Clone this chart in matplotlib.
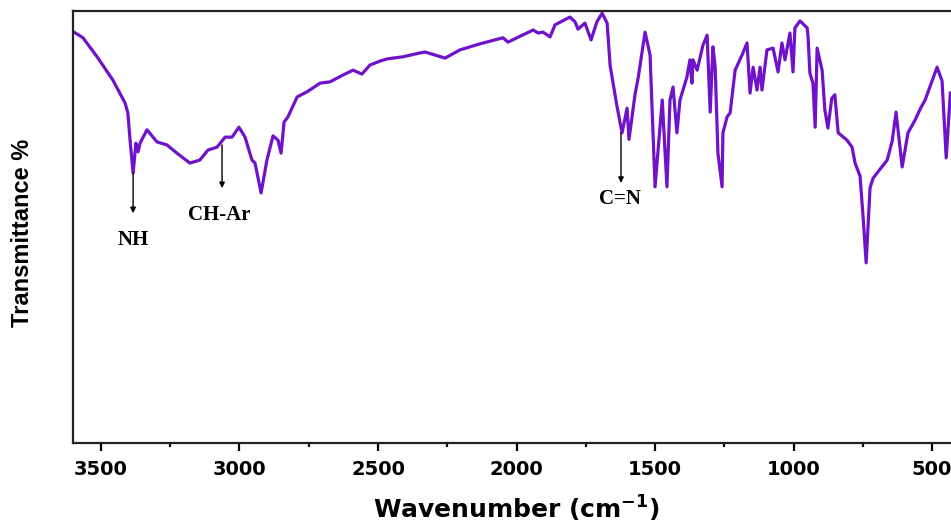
import matplotlib
matplotlib.use("Agg")
import matplotlib.pyplot as plt
from matplotlib.ticker import MultipleLocator

wavenumber = [3597, 3565, 3514, 3457, 3413, 3403, 3395, 3384, 3374, 3366, 3359, 3334, 3298,
              3262, 3226, 3179, 3143, 3114, 3081, 3052, 3027, 3002, 2980, 2955, 2944, 2922,
              2901, 2879, 2861, 2850, 2839, 2825, 2792, 2756, 2709, 2673, 2626, 2590, 2558,
              2529, 2493, 2468, 2410, 2348, 2330, 2258, 2204, 2132, 2049, 2031, 1940, 1922,
              1904, 1879, 1861, 1807, 1789, 1778, 1753, 1731, 1710, 1691, 1673, 1662, 1637,
              1619, 1601, 1594, 1572, 1561, 1536, 1518, 1500, 1489, 1474, 1457, 1446, 1435,
              1421, 1410, 1385, 1374, 1367, 1363, 1348, 1327, 1312, 1301, 1291, 1283, 1273,
              1258, 1255, 1240, 1229, 1211, 1186, 1168, 1157, 1146, 1132, 1121, 1114, 1096,
              1074, 1056, 1042, 1031, 1013, 1002, 995, 977, 951, 948, 941, 930, 922, 915, 897,
              887, 876, 862, 851, 839, 807, 789, 778, 760, 749, 738, 724, 713, 662, 644, 630,
              608, 587, 561, 543, 525, 482, 464, 449, 434]
transmittance = [95.1, 93.8, 89.4, 84.0, 78.7, 76.4, 70.1, 62.5, 69.4, 67.4, 69.4, 72.5, 69.7,
                 69.0, 67.1, 64.8, 65.5, 67.8, 68.5, 70.8, 70.8, 73.1, 70.8, 65.5, 64.8, 57.9,
                 65.5, 71.1, 70.1, 67.1, 74.3, 75.5, 80.1, 81.3, 83.3, 83.6, 85.2, 86.3, 85.4,
                 87.5, 88.4, 88.9, 89.4, 90.3, 90.5, 89.1, 91.0, 92.4, 93.8, 92.8, 95.6, 94.9,
                 95.1, 94.0, 96.8, 98.6, 97.5, 95.8, 97.2, 93.3, 97.5, 99.5, 97.2, 87.3, 77.8,
                 71.8, 77.5, 70.3, 80.8, 84.5, 95.1, 89.8, 59.3, 67.8, 79.4, 59.3, 79.4, 82.4,
                 71.8, 79.4, 84.7, 88.7, 83.3, 88.7, 86.3, 92.1, 94.4, 76.6, 91.7, 87.0, 67.1,
                 59.3, 71.8, 75.5, 76.4, 86.3, 89.8, 92.6, 81.0, 87.0, 81.7, 87.0, 81.7, 91.0,
                 91.4, 85.9, 92.6, 88.7, 94.9, 85.9, 96.1, 97.7, 96.1, 94.4, 85.6, 83.3, 73.1,
                 91.4, 86.3, 77.1, 72.9, 79.8, 80.6, 71.8, 70.1, 68.5, 64.8, 61.8, 52.3, 41.7,
                 59.0, 61.3, 65.5, 69.9, 76.6, 63.9, 71.8, 74.8, 77.3, 79.4, 87.0, 83.8, 66.0,
                 81.0]

peak_labels = ["NH", "CH-Ar", "C=N"]
peak_wn = [3384, 3063, 1623]
arrow_top = [62.5, 69.0, 71.8]
arrow_bottom = [53.2, 59.0, 60.2]
label_y = [47.0, 52.8, 56.5]
label_x = [3384, 3074, 1626]

xticks = [3500, 3000, 2500, 2000, 1500, 1000, 500]

fig = plt.figure(figsize=(9.51, 5.23), dpi=100)
ax = fig.add_axes([73/951, 1 - 443/523, (962 - 73)/951, (443 - 11)/523])

ax.plot(wavenumber, transmittance, color="#6f12c9", lw=2.3, solid_joinstyle="round")

ax.set_xlim(3601, 392)
ax.set_ylim(0, 100)
ax.set_xticks(xticks)
ax.xaxis.set_minor_locator(MultipleLocator(250))
ax.set_yticks([])
for s in ax.spines.values():
    s.set_linewidth(1.6)
    s.set_color("#222222")
ax.tick_params(axis="x", which="major", length=6, width=1.6, direction="out", pad=6)
ax.tick_params(axis="x", which="minor", length=3, width=1.6, direction="out")
for lab in ax.get_xticklabels():
    lab.set_fontweight("bold")
    lab.set_fontsize(14)
    lab.set_family("DejaVu Sans")

for name, x, yt, yb, lx, ly in zip(peak_labels, peak_wn, arrow_top, arrow_bottom, label_x, label_y):
    ax.annotate("", xy=(x, yb), xytext=(x, yt),
                arrowprops=dict(arrowstyle="-|>", color="black", lw=1.0, mutation_scale=8,
                                shrinkA=0, shrinkB=0))
    ax.text(lx, ly, name, ha="center", va="center", fontsize=15, fontweight="bold",
            family=["Liberation Serif", "DejaVu Serif"])

fig.text(516/951, 1 - 509/523, "Wavenumber (cm$^{\\mathbf{-1}}$)", ha="center", va="center",
         fontsize=18, fontweight="bold", family="DejaVu Sans")
fig.text(23/951, 1 - 233/523, "Transmittance %", rotation=90, ha="center", va="center",
         fontsize=17, fontweight="bold", family=["Liberation Sans Narrow", "Liberation Sans", "DejaVu Sans"])

fig.savefig("out.png", dpi=100)
